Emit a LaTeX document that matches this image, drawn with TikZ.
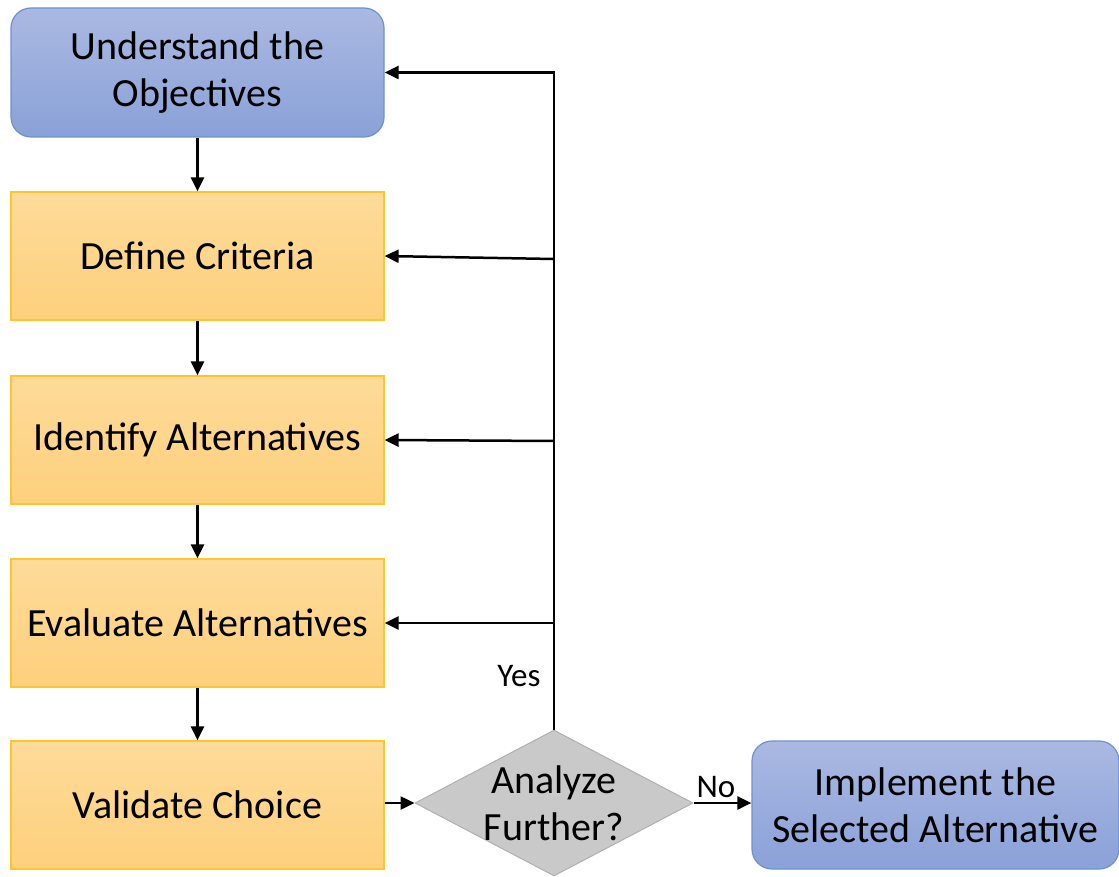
\documentclass[tikz,border=0pt]{standalone}
\usepackage{fontspec}
\setmainfont{Carlito}
\usetikzlibrary{shapes.geometric,arrows.meta}
\definecolor{blueTop}{HTML}{AAB9E2}
\definecolor{blueBot}{HTML}{8AA1D8}
\definecolor{blueEdge}{HTML}{6F8FD3}
\definecolor{goldTop}{HTML}{FEDB9A}
\definecolor{goldBot}{HTML}{FDD07C}
\definecolor{goldEdge}{HTML}{FFC52A}
\definecolor{greyFill}{HTML}{C9C9C9}
\definecolor{greyEdge}{HTML}{B0B0B0}
\tikzset{
  txt/.style={font=\fontsize{40}{47}\selectfont, align=center},
  bluebox/.style={txt, rectangle, rounded corners=20pt, draw=blueEdge, line width=1.2pt,
    top color=blueTop, bottom color=blueBot, inner sep=0pt},
  goldbox/.style={txt, rectangle, draw=goldEdge, line width=1.2pt,
    top color=goldTop, bottom color=goldBot, inner sep=0pt,
    minimum width=373pt, minimum height=128pt},
  decision/.style={txt, diamond, draw=greyEdge, line width=1pt, fill=greyFill,
    inner sep=0pt, shape aspect=1.9, minimum width=278pt, minimum height=146pt},
  arr/.style={line width=2.5pt, -{Triangle[length=14pt,width=13pt]}},
  lbl/.style={font=\fontsize{33}{36}\selectfont, inner sep=0pt}
}
\begin{document}
\begin{tikzpicture}[x=1pt,y=-1pt]
  \useasboundingbox (0,0) rectangle (1119,877);

  % main column of steps
  \node[bluebox, minimum width=373pt, minimum height=129pt] (obj) at (197.5,72.5)
    {Understand the\\Objectives};
  \node[goldbox] (crit) at (197.5,256) {Define Criteria};
  \node[goldbox] (ident) at (197.5,440) {Identify Alternatives};
  \node[goldbox] (eval) at (197.5,623) {Evaluate Alternatives};
  \node[goldbox] (valid) at (197.5,805) {Validate Choice};

  % decision and outcome
  \node[decision] (dec) at (554,803) {};
  \node[txt] (dectext) at (dec.center) {Analyze\\Further?};
  \node[bluebox, minimum width=367pt, minimum height=128pt] (impl) at (935.5,805)
    {Implement the\\Selected Alternative};

  % forward flow
  \draw[arr] (obj.south) -- (crit.north);
  \draw[arr] (crit.south) -- (ident.north);
  \draw[arr] (ident.south) -- (eval.north);
  \draw[arr] (eval.south) -- (valid.north);
  \draw[arr] (valid.east |- dec.west) -- (dec.west);
  \draw[arr] (dec.east) -- (impl.west |- dec.east);

  % feedback loop from the decision
  \coordinate (jcrit) at (554,259);
  \coordinate (jident) at (554,441);
  \coordinate (jeval) at (554,623);
  \draw[arr] (dec.north) |- (obj.east);
  \draw[arr] (jcrit) -- (crit.east);
  \draw[arr] (jident) -- (ident.east);
  \draw[arr] (jeval) -- (eval.east);

  % branch labels
  \node[lbl] (yes) at (519,676) {Yes};
  \node[lbl] (no) at (716,787) {No};
\end{tikzpicture}
\end{document}
